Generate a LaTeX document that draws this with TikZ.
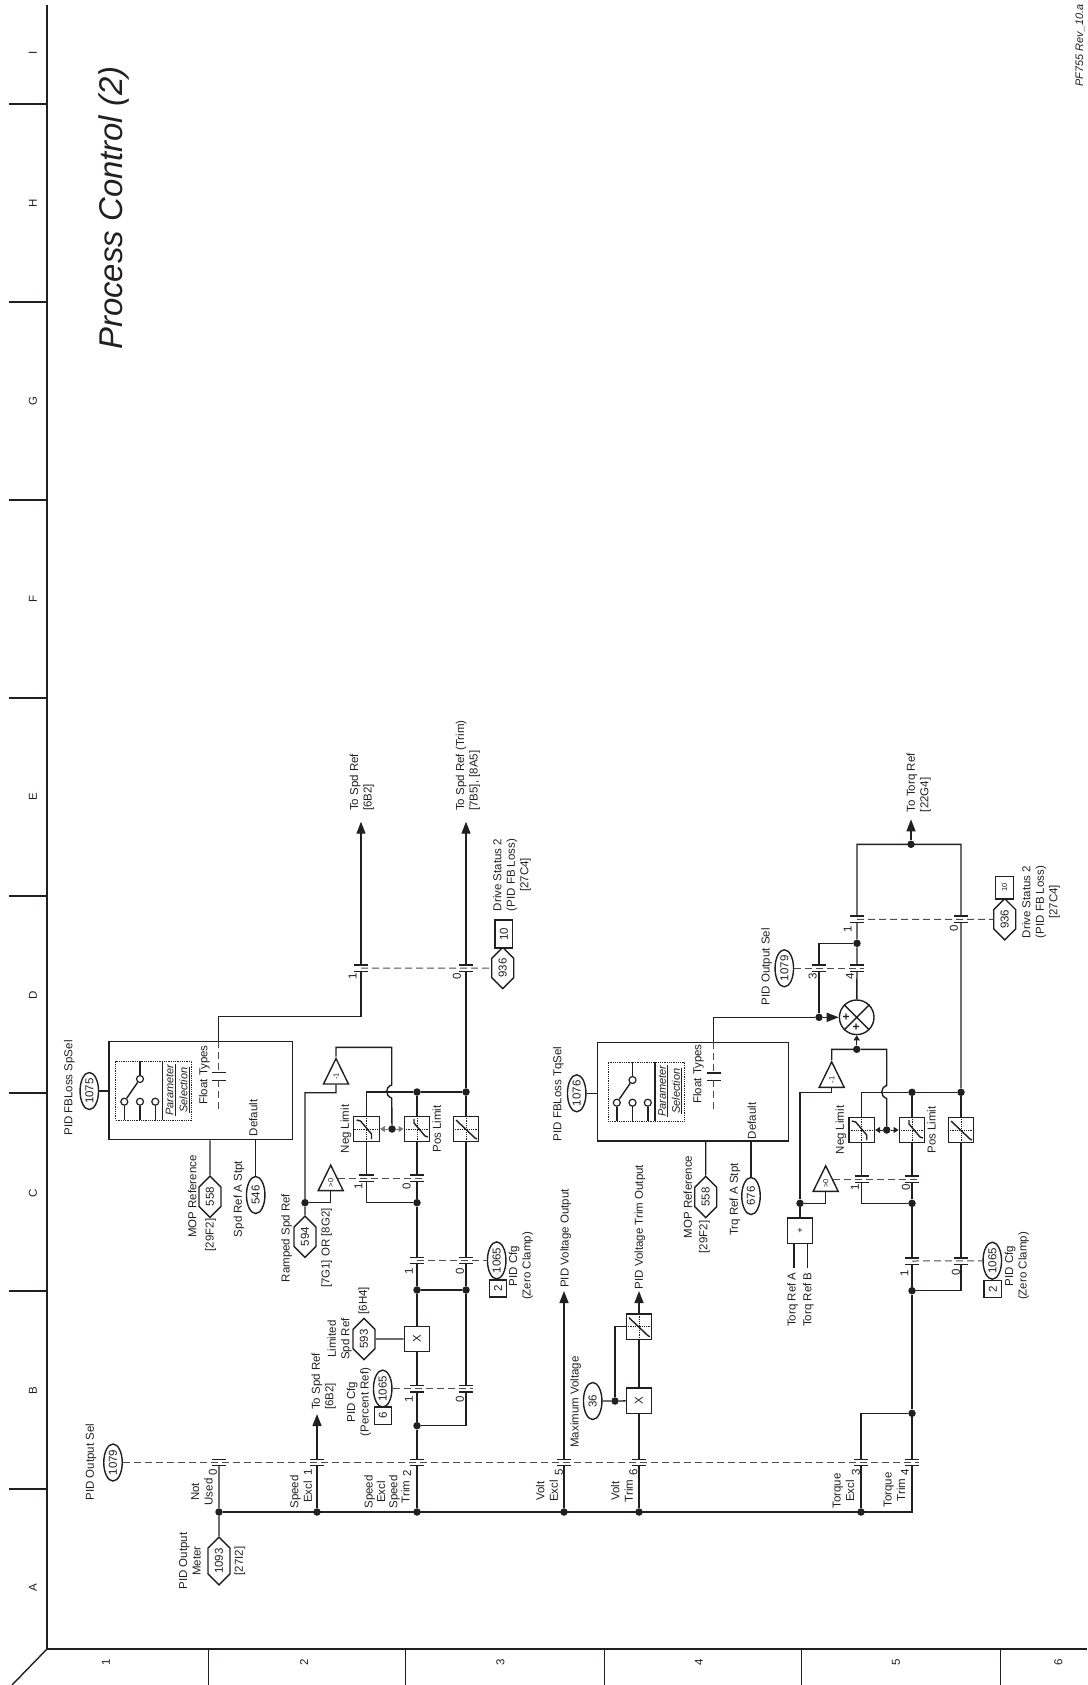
\documentclass[tikz,border=0pt]{standalone}
\usepackage{fontspec}
\setmainfont{Liberation Sans}
\usetikzlibrary{arrows.meta, shapes.geometric, shapes.symbols}
\definecolor{ink}{HTML}{231F20}
\newcommand{\contact}[3]{%
  \node[contact] (#1) at (#2,#3) {};
  \draw[wire] (#1.north west) -- (#1.north east) (#1.south west) -- (#1.south east);}

\begin{document}
\begin{tikzpicture}[
    x=1pt, y=-1pt,
    wire/.style={draw=ink, line width=1.4pt},
    ctrl/.style={draw=ink!80, line width=1pt, dash pattern=on 7pt off 4pt},
    arrow/.style={wire, -{Triangle[length=12pt,width=9pt]}},
    tinyarrow/.style={wire, line width=1pt, -{Triangle[length=5pt,width=6pt]}},
    lbl/.style={rotate=90, font=\fontsize{11.5}{13.5}\selectfont, align=center, inner sep=0pt, text=ink},
    small/.style={font=\fontsize{7.5}{9}\selectfont},
    oval/.style={lbl, ellipse, wire, fill=white, minimum width=37pt, minimum height=18.5pt},
    hexa/.style={lbl, signal, signal to=east and west, signal pointer angle=90, wire, fill=white,
                 minimum width=37pt, minimum height=22pt},
    numbox/.style={lbl, rectangle, wire, fill=white},
    jn/.style={circle, fill=ink, inner sep=0pt, minimum size=7.5pt},
    contact/.style={rectangle, inner sep=0pt, minimum width=14pt, minimum height=6pt},
    sq/.style={rectangle, wire, fill=white, inner sep=0pt, minimum size=25.5pt},
    mulbox/.style={sq, lbl},
    limbox/.style={sq, path picture={
        \begin{scope}[shift={(path picture bounding box.center)}]
          \draw[ink, densely dotted, line width=.8pt] (-13,0) -- (13,0) (0,-13) -- (0,13);
          \draw[wire] #1;
        \end{scope}}},
    limneg/.style={limbox={(-10,-9) -- (-6,-8) -- (5,5) -- (5,10)}},
    limpos/.style={limbox={(-3,-10) -- (-3,-6) -- (8,7) -- (11,8)}},
    limfull/.style={limbox={(-10,-9) -- (9,9) -- (11,10)}},
    tri/.style={lbl, small, isosceles triangle, isosceles triangle stretches, wire, fill=white, anchor=apex,
                minimum width=25pt, minimum height=25.5pt},
    selbox/.style={rectangle, wire},
    seldots/.style={rectangle, draw=ink, densely dotted, line width=.8pt, minimum width=76pt, minimum height=59pt},
    swpin/.style={circle, wire, line width=1.2pt, fill=white, inner sep=0pt, minimum size=7pt},
]
\useasboundingbox (0,0) rectangle (1087,1685);

% page frame
\draw[wire] (47,5) -- (47,1649) -- (1087,1649);
\draw[wire] (47,1649) -- (12,1685);
\foreach \ty in {104,302,500,698,896,1093,1291,1489}
    \draw[wire] (9,\ty) -- (47,\ty);
\foreach \tx in {208,405.5,604,801.5,1000}
    \draw[wire, line width=1pt] (\tx,1649) -- (\tx,1685);
\foreach \colname/\ty in {A/1588,B/1391,C/1193,D/995,E/797,F/599,G/401,H/203,I/53}
    \node[lbl] (col\colname) at (33,\ty) {\colname};
\foreach \rowname/\tx in {1/106,2/304,3/500.5,4/699,5/896,6/1058.5}
    \node[lbl] (row\rowname) at (\tx,1662) {\rowname};
\node[lbl, font=\fontsize{32.9}{38}\selectfont\itshape] (title) at (114,208) {Process Control (2)};
\node[lbl, font=\fontsize{10.9}{13}\selectfont\itshape] (rev) at (1080,45.5) {PF755 Rev\_10.a};

% output selector
\node[oval] (sel1079) at (113,1462.5) {1079};
\node[lbl] (sel1079lbl) at (91,1462) {PID Output Sel};
\contact{cNot}{219}{1462.5}
\contact{cSpd}{317}{1462.5}
\contact{cTrim}{417}{1462.5}
\contact{cVolt}{564}{1462.5}
\contact{cVoltT}{639}{1462.5}
\contact{cTq}{861}{1462.5}
\contact{cTqT}{912}{1462.5}
\draw[ctrl] (sel1079) -- (cTqT.east);

\foreach \nm/\px in {Not/219,Spd/317,Trim/417,Volt/564,VoltT/639,Tq/861}
    \node[jn] (jb\nm) at (\px,1512) {};
\coordinate (busEnd) at (912,1512);
\draw[wire] (jbNot) -- (busEnd) -- (cTqT);
\node[hexa] (hex1093) at (219,1561) {1093};
\draw[wire] (cNot) -- (jbNot) -- (hex1093);
\node[lbl] (meterlbl) at (190,1561) {PID Output\\Meter};
\node[lbl] (meterref) at (240,1561) {[27I2]};

\node[lbl] (lblNot) at (202,1492) {Not\\Used};
\node[lbl] (n0) at (213,1472) {0};
\node[lbl] (lblSpd) at (301,1492) {Speed\\Excl};
\node[lbl] (n1) at (308,1472) {1};
\node[lbl] (lblTrim) at (387,1492) {Speed\\[-1.2pt]Excl\\[-1.2pt]Speed\\[-1.2pt]Trim};
\node[lbl] (n2) at (407,1473) {2};
\node[lbl] (lblVolt) at (547,1491) {Volt\\Excl};
\node[lbl] (n5) at (559,1472) {5};
\node[lbl] (lblVoltT) at (622,1491) {Volt\\Trim};
\node[lbl] (n6) at (633.5,1472) {6};
\node[lbl] (lblTq) at (843.5,1491) {Torque\\Excl};
\node[lbl] (n3) at (856,1472) {3};
\node[lbl] (lblTqT) at (894.5,1490) {Torque\\Trim};
\node[lbl] (n4) at (905,1472) {4};

% speed branch
\coordinate (outSpdB) at (317,1414);
\draw[wire] (jbSpd) -- (cSpd);
\draw[arrow] (cSpd) -- (outSpdB);
\node[lbl, anchor=west, align=left] (outSpdBlbl) at (323.7,1410) {To Spd Ref\\{[6B2]}};

\node[jn] (jPct) at (417,1425.7) {};
\contact{cPct1}{417}{1388.6}
\contact{cPct0}{466}{1388.6}
\node[mulbox] (mulSpd) at (417,1339) {X};
\node[jn] (jZc) at (417,1290) {};
\node[jn] (jZc0) at (466,1290) {};
\contact{cZc1}{417}{1260.4}
\contact{cZc0}{466}{1260.4}
\node[jn] (jCl) at (417,1202.7) {};
\contact{cCl1}{366.5}{1178}
\contact{cCl0}{417}{1178}
\node[limneg] (limNeg) at (366.5,1129) {};
\node[limpos] (limPos) at (417,1129) {};
\node[limfull] (limFull) at (466,1129) {};
\node[jn] (jTop) at (417,1092) {};
\node[jn] (jTopR) at (466,1092) {};
\node[jn] (jFb) at (392,1129) {};
\contact{cOut1}{361}{968}
\contact{cOut0}{466}{968}
\coordinate (outSpd) at (361,821.7);
\coordinate (outTrim) at (466,821.7);

\draw[wire] (jbTrim) -- (cTrim) -- (jPct) -- (cPct1) -- (mulSpd) -- (jZc) -- (cZc1) -- (jCl) -- (cCl0) -- (limPos) -- (jTop);
\draw[wire] (jPct) -| (cPct0);
\draw[wire] (cPct0) -- (jZc0) -- (cZc0) -- (limFull) -- (jTopR) -- (cOut0);
\draw[wire] (jZc) -- (jZc0);
\draw[wire] (jTopR) -- (jTop) -| (limNeg);
\draw[wire] (limNeg) -- (cCl1);
\draw[wire] (cCl1) |- (jCl);
\draw[arrow] (cOut0) -- (outTrim);
\draw[arrow] (cOut1) -- (outSpd);

\node[hexa] (hex593) at (364,1339) {593};
\draw[wire] (hex593) -- (mulSpd);
\node[lbl] (hex593lbl) at (339.7,1339) {Limited\\Spd Ref};
\node[lbl] (hex593ref) at (364,1300.6) {[6H4]};

\node[oval] (cfgPct) at (382.7,1388.6) {1065};
\node[numbox, minimum width=17.5pt, minimum height=17.5pt] (bitPct) at (383,1415.7) {6};
\draw[ctrl] (cfgPct) -- (cPct0.east);
\node[lbl] (cfgPctlbl) at (359,1402) {PID Cfg\\(Percent Ref)};
\node[lbl] (n1a) at (409,1399) {1};
\node[lbl] (n0a) at (460,1399) {0};

\node[oval] (cfgZc) at (496.7,1260.4) {1065};
\node[numbox, minimum width=17pt, minimum height=17.5pt] (bitZc) at (498,1288.3) {2};
\draw[ctrl] (cZc1.center) -- (cfgZc);
\node[lbl] (cfgZclbl) at (521,1266) {PID Cfg\\(Zero Clamp)};
\node[lbl] (n1b) at (409,1271.4) {1};
\node[lbl] (n0b) at (460,1271.4) {0};

% limit feedback, speed
\node[hexa] (hex594) at (305,1236.7) {594};
\node[jn] (jRamp) at (305,1202.7) {};
\node[lbl] (hex594lbl) at (286.7,1238) {Ramped Spd Ref};
\node[lbl] (hex594ref) at (326.7,1248) {[7G1] OR [8G2]};
\node[tri] (gtSpd) at (330.7,1163.3) {>0};
\node[tri] (negSpd) at (336,1056.7) {-1};
\coordinate (fbSpd) at (391.7,1047.3);
\coordinate (jumpa) at (391.7,1085);
\coordinate (jumpb) at (391.7,1098);
\coordinate (bendNeg) at (305,1092.7);
\draw[wire] (negSpd.apex) |- (fbSpd) -- (jumpa) .. controls (385,1087) and (385,1096) .. (jumpb) -- (jFb);
\draw[wire] (negSpd.lower side) |- (bendNeg) -- (jRamp) -- (hex594);
\draw[wire] (jRamp) -| (gtSpd.lower side);
\draw[ctrl] (gtSpd.right side |- cCl1) -- (cCl0.east);
\draw[tinyarrow, ink!60] (jFb) -- (limNeg);
\draw[tinyarrow, ink!60] (jFb) -- (limPos);
\node[lbl] (negSpdlbl) at (346,1129) {Neg Limit};
\node[lbl] (posSpdlbl) at (436.7,1129) {Pos Limit};
\node[lbl] (n1c) at (358.3,1186.7) {1};
\node[lbl] (n0c) at (406.7,1186.7) {0};

% speed outputs
\node[hexa] (hex936a) at (502.7,968) {936};
\node[numbox, minimum width=28pt, minimum height=17.7pt] (bit936a) at (503.8,934) {10};
\draw[ctrl] (cOut1.center) -- (hex936a);
\node[lbl] (stat936a) at (512,875) {Drive Status 2\\(PID FB Loss)\\{[27C4]}};
\node[lbl] (n1d) at (352.7,976) {1};
\node[lbl] (n0d) at (457,976) {0};
\node[lbl, anchor=west, align=left] (outSpdlbl) at (362,811) {To Spd Ref\\{[6B2]}};
\node[lbl, anchor=west, align=left] (outTrimlbl) at (468,811) {To Spd Ref (Trim)\\{[7B5], [8A5]}};

% selector blocks
\foreach \bx/\by/\nm in {0/0/Spd,492.5/1/Tq}{
  \begin{scope}[shift={(\bx,\by)}]
    \node[seldots] (dots\nm) at (153.7,1090.5) {};
    \node[swpin] (pina\nm) at (124.3,1101.7) {};
    \node[swpin] (pinb\nm) at (140,1101.7) {};
    \node[swpin] (pinc\nm) at (155.3,1101.7) {};
    \node[swpin] (pint\nm) at (140,1079) {};
    \draw[wire] (pina\nm) -- (pina\nm |- dots\nm.south);
    \draw[wire] (pinb\nm) -- (pinb\nm |- dots\nm.south);
    \draw[wire] (pinc\nm) -- (pinc\nm |- dots\nm.south);
    \draw[wire] (pint\nm) -- (pint\nm |- dots\nm.north);
    \draw[wire] (pina\nm) -- (pint\nm);
    \draw[wire] ([xshift=8.6pt]dots\nm.north) -- ([xshift=8.6pt]dots\nm.south);
    \node[lbl, font=\fontsize{11}{13}\selectfont\itshape] (par\nm) at (177.7,1090) {\underline{Parameter}\\[1pt]\underline{Selection}};
  \end{scope}
}

% speed selector box
\node[selbox, minimum width=183.7pt, minimum height=98pt] (boxSpd) at (200.9,1090.6) {};
\node[oval] (oval1075) at (89.3,1091) {1075};
\node[lbl] (oval1075lbl) at (69.3,1088) {PID FBLoss SpSel};
\draw[wire] (oval1075) -- (oval1075 -| boxSpd.west);
\node[lbl] (floatSpd) at (204.3,1075) {Float Types};
\node[contact, minimum height=7.3pt] (cFloatSpd) at (218.7,1076.4) {};
\draw[wire] (cFloatSpd.north west) -- (cFloatSpd.north east) (cFloatSpd.south west) -- (cFloatSpd.south east);
\coordinate (floatEndSpd) at (218.7,1110);
\coordinate (bendSpd) at (218.7,1016.5);
\draw[ctrl] (boxSpd.north -| cFloatSpd) -- (cFloatSpd);
\draw[ctrl] (cFloatSpd) -- (floatEndSpd);
\draw[wire] (boxSpd.north -| cFloatSpd) -- (bendSpd) -| (cOut1);
\node[lbl] (defSpd) at (253.3,1118) {Default};
\node[hexa] (hex558a) at (210,1196.7) {558};
\draw[wire] (boxSpd.south -| hex558a) -- (hex558a);
\node[lbl] (hex558alb) at (192.3,1196.6) {MOP Reference};
\node[lbl] (hex558aref) at (210.7,1235) {[29F2]};
\node[oval] (oval546) at (255.7,1195) {546};
\draw[wire] (boxSpd.south -| oval546) -- (oval546);
\node[lbl] (oval546lbl) at (239,1199) {Spd Ref A Stpt};

% torque selector box
\node[selbox, minimum width=191pt, minimum height=98.7pt] (boxTq) at (692.8,1091.7) {};
\node[oval] (oval1076) at (576.7,1093.3) {1076};
\node[lbl] (oval1076lbl) at (558.3,1094) {PID FBLoss TqSel};
\draw[wire] (oval1076) -- (oval1076 -| boxTq.west);
\node[lbl] (floatTq) at (698.3,1074) {Float Types};
\node[contact, minimum height=7pt] (cFloatTq) at (713.7,1076.7) {};
\draw[wire] (cFloatTq.north west) -- (cFloatTq.north east) (cFloatTq.south west) -- (cFloatTq.south east);
\coordinate (floatEndTq) at (713.7,1111.7);
\coordinate (bendTq) at (713.7,1017.3);
\draw[ctrl] (boxTq.north -| cFloatTq) -- (cFloatTq);
\draw[ctrl] (cFloatTq) -- (floatEndTq);
\node[lbl] (defTq) at (751.7,1121) {Default};
\node[hexa] (hex558b) at (705.7,1197) {558};
\draw[wire] (boxTq.south -| hex558b) -- (hex558b);
\node[lbl] (hex558blb) at (687.7,1197) {MOP Reference};
\node[lbl] (hex558bref) at (704.3,1237) {[29F2]};
\node[oval] (oval676) at (751,1196) {676};
\draw[wire] (boxTq.south -| oval676) -- (oval676);
\node[lbl] (oval676lbl) at (735,1199.6) {Trq Ref A Stpt};

% voltage branches
\coordinate (outVolt) at (564,1291);
\coordinate (outVoltT) at (639,1291);
\draw[wire] (jbVolt) -- (cVolt);
\draw[arrow] (cVolt) -- (outVolt);
\node[lbl] (outVoltlbl) at (565.7,1238.5) {PID Voltage Output};
\draw[wire] (jbVoltT) -- (cVoltT);
\node[mulbox] (mulVolt) at (639,1400.8) {X};
\node[limfull] (limVolt) at (639,1326.7) {};
\draw[wire] (cVoltT) -- (mulVolt) -- (limVolt);
\draw[arrow] (limVolt) -- (outVoltT);
\node[lbl] (outVoltTlbl) at (640,1227) {PID Voltage Trim Output};
\node[oval] (oval36) at (592.7,1401) {36};
\node[lbl] (oval36lbl) at (575.7,1402) {Maximum Voltage};
\node[jn] (jMax) at (615,1401) {};
\draw[wire] (oval36) -- (jMax) -- (mulVolt);
\draw[wire] (jMax) |- (limVolt);

% torque branch
\node[jn] (jTq) at (912,1413.3) {};
\node[jn] (jZq) at (912,1290.7) {};
\contact{cZq1}{912}{1261}
\contact{cZq0}{961}{1261}
\node[jn] (jClq) at (912,1203.3) {};
\contact{cClq1}{861.7}{1179}
\contact{cClq0}{912}{1179}
\node[limneg] (limNegq) at (861.7,1130) {};
\node[limpos] (limPosq) at (912,1130) {};
\node[limfull] (limFullq) at (961,1130) {};
\node[jn] (jTopq) at (912,1092.3) {};
\node[jn] (jTopRq) at (961,1092.3) {};
\node[jn] (jFbq) at (886.7,1130) {};
\draw[wire] (cTqT) -- (jTq) -- (jZq) -- (cZq1) -- (jClq) -- (cClq0) -- (limPosq) -- (jTopq);
\draw[wire] (jbTq) -- (cTq);
\draw[wire] (cTq) |- (jTq);
\draw[wire] (jZq) -| (cZq0);
\draw[wire] (cZq0) -- (limFullq) -- (jTopRq);
\draw[wire] (jTopRq) -- (jTopq) -| (limNegq);
\draw[wire] (limNegq) -- (cClq1);
\draw[wire] (cClq1) |- (jClq);
\draw[tinyarrow] (jFbq) -- (limNegq);
\draw[tinyarrow] (jFbq) -- (limPosq);
\node[lbl] (negTqlbl) at (841,1130) {Neg Limit};
\node[lbl] (posTqlbl) at (931.5,1130) {Pos Limit};
\node[lbl] (n1e) at (855,1187) {1};
\node[lbl] (n0e) at (906,1187) {0};

\node[oval] (cfgZq) at (992.3,1260.7) {1065};
\node[numbox, minimum width=17pt, minimum height=17.7pt] (bitZq) at (992.8,1289.2) {2};
\draw[ctrl] (cZq1.center) -- (cfgZq);
\node[lbl] (cfgZqlbl) at (1017,1266) {PID Cfg\\(Zero Clamp)};
\node[lbl] (n1f) at (904.3,1273) {1};
\node[lbl] (n0f) at (956,1272) {0};

\node[sq, small, font=\fontsize{9}{10}\selectfont] (plusBox) at (800,1230.8) {+};
\node[jn] (jPlus) at (800,1203.3) {};
\coordinate (inA) at (794,1268);
\coordinate (inB) at (807.3,1268);
\draw[wire] (inA) -- (inA |- plusBox.south);
\draw[wire] (inB) -- (inB |- plusBox.south);
\draw[wire] (plusBox) -- (jPlus);
\node[lbl, anchor=west] (inAlbl) at (792.7,1327) {Torq Ref A};
\node[lbl, anchor=west] (inBlbl) at (808.3,1327) {Torq Ref B};
\node[tri] (gtTq) at (825.7,1164) {>0};
\node[tri] (negTq) at (831.7,1060) {-1};
\node[jn] (jFbTop) at (856.7,1049.3) {};
\coordinate (bendFbq) at (886.7,1049.3);
\coordinate (jumpc) at (886.7,1085.5);
\coordinate (jumpd) at (886.7,1098.5);
\coordinate (bendNegq) at (800,1092.3);
\draw[wire] (negTq.apex) |- (jFbTop) -- (bendFbq) -- (jumpc) .. controls (880,1087.5) and (880,1096.5) .. (jumpd) -- (jFbq);
\draw[wire] (negTq.lower side) |- (bendNegq) -- (jPlus);
\draw[wire] (jPlus) -| (gtTq.lower side);
\draw[ctrl] (gtTq.right side |- cClq1) -- (cClq0.east);

% summing point
\node[circle, wire, fill=white, minimum size=34.6pt, inner sep=0pt] (sum) at (856.7,1017.3) {};
\draw[wire] (sum.north east) -- (sum.south west) (sum.north west) -- (sum.south east);
\node[lbl, font=\fontsize{12}{13}\selectfont\bfseries] (sumpa) at (846.7,1017.3) {+};
\node[lbl, font=\fontsize{12}{13}\selectfont\bfseries] (sumpb) at (856.7,1027.3) {+};
\node[jn] (jSumIn) at (819,1017.3) {};
\draw[wire] (boxTq.north -| cFloatTq) -- (bendTq) -- (jSumIn);
\draw[arrow] (jSumIn) -- (sum);
\draw[tinyarrow, line width=1.4pt] (jFbTop) -- (sum);
\contact{cSel3}{819}{968.3}
\contact{cSel4}{857}{968.3}
\node[jn] (jSel) at (857,943.3) {};
\contact{cOq1}{857}{919.3}
\contact{cOq0}{961}{919.3}
\node[jn] (jOq) at (911,844.3) {};
\coordinate (bendOqa) at (857,844.3);
\coordinate (bendOqb) at (961,844.3);
\coordinate (outTq) at (911,819.3);
\draw[wire] (jSumIn) -- (cSel3);
\draw[wire] (cSel3) |- (jSel);
\draw[wire] (sum) -- (cSel4) -- (jSel) -- (cOq1) -- (bendOqa) -- (bendOqb) -- (cOq0) -- (jTopRq);
\draw[arrow] (jOq) -- (outTq);
\node[oval] (sel1079b) at (784.3,968.3) {1079};
\node[lbl] (sel1079blbl) at (766.7,966.7) {PID Output Sel};
\draw[ctrl] (sel1079b) -- (cSel4.east);
\node[hexa] (hex936b) at (1004.7,919.3) {936};
\node[numbox, small, minimum width=22.5pt, minimum height=17.7pt] (bit936b) at (1004.5,887.8) {10};
\draw[ctrl] (cOq1.center) -- (hex936b);
\node[lbl] (stat936b) at (1041,902) {Drive Status 2\\(PID FB Loss)\\{[27C4]}};
\node[lbl, anchor=west, align=left] (outTqlbl) at (918.7,812.3) {To Torq Ref\\{[22G4]}};
\node[lbl] (n1g) at (847.7,929.3) {1};
\node[lbl] (n0g) at (954,928) {0};
\node[lbl] (n3b) at (812.7,976.7) {3};
\node[lbl] (n4b) at (850,976.7) {4};
\end{tikzpicture}
\end{document}
